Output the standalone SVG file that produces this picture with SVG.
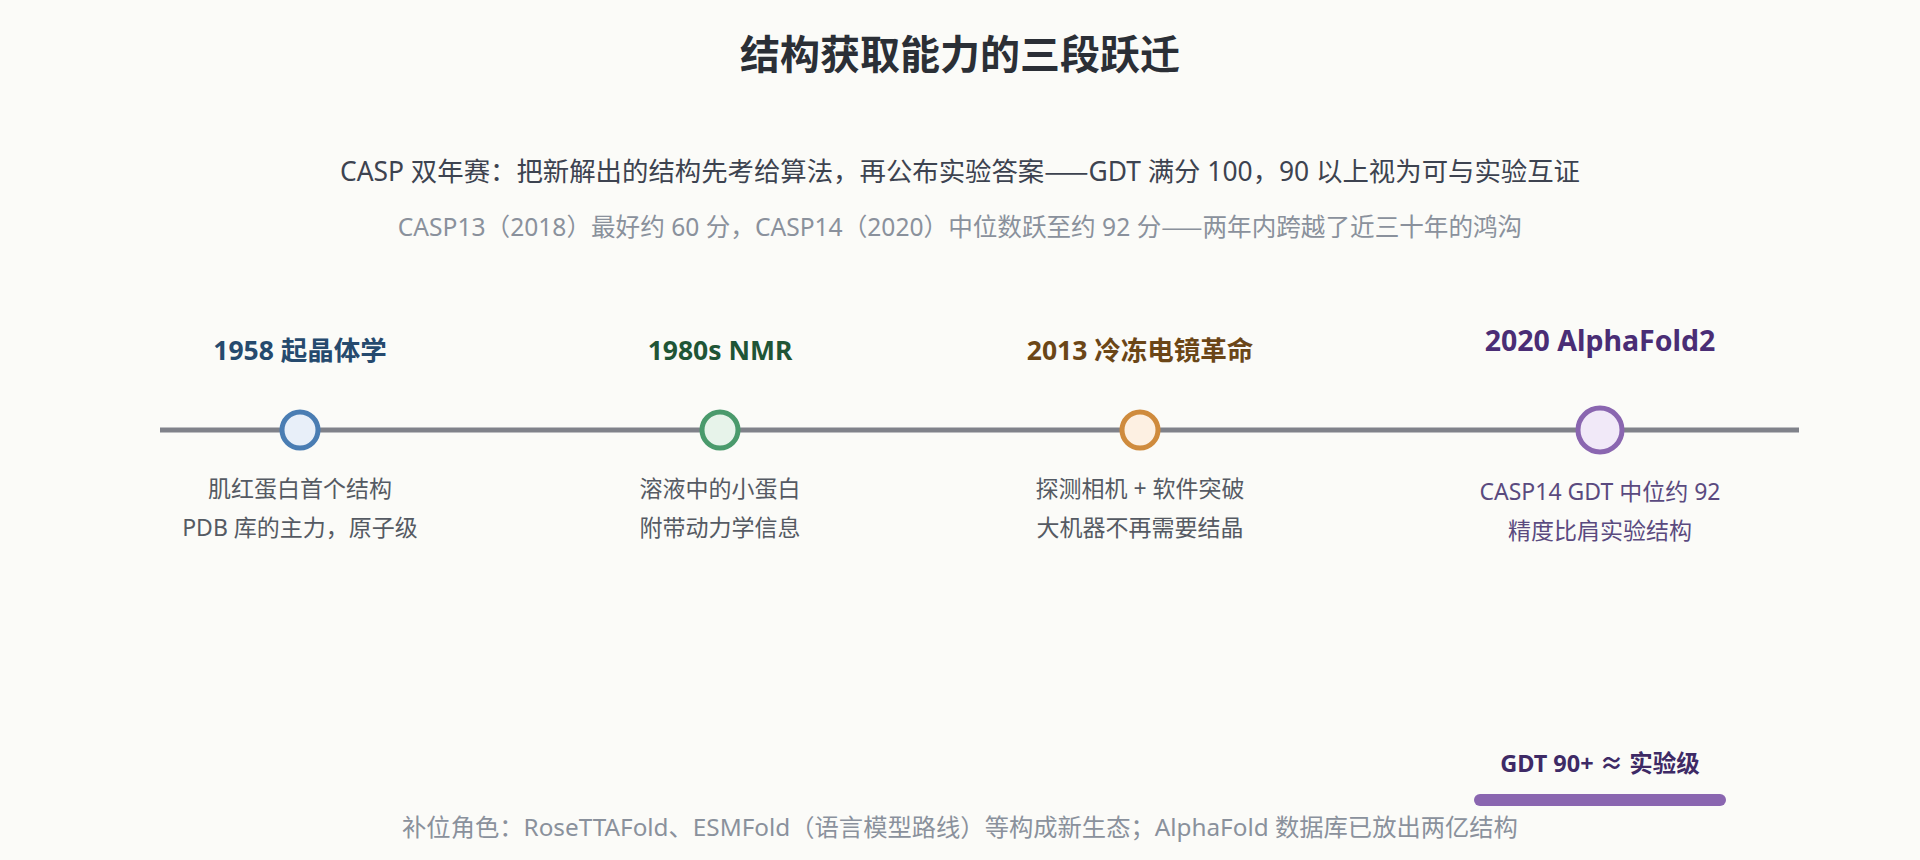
<svg xmlns="http://www.w3.org/2000/svg" width="1920" height="860" viewBox="0 0 1920 860">
<defs>
<style>
text{font-family:"Noto Sans","Noto Sans CJK SC",sans-serif;text-anchor:middle}
.cjk{font-family:"Noto Sans CJK SC",sans-serif}
.title{font-size:40px;font-weight:700;fill:#2b2f36}
.sub1{font-size:26.4px;fill:#3d4350}
.sub2{font-size:24.6px;fill:#8a919c}
.foot{font-size:24.3px;fill:#8a919c}
.nt{font-size:26.5px;font-weight:700}
.nd{font-size:23px;fill:#555a63}
.axis{stroke:#80828a;stroke-width:5}
</style>
</defs>
<rect width="1920" height="860" fill="#fbfbf8"/>
<text class="title" x="960" y="69">结构获取能力的三段跃迁</text>
<text class="sub1" x="960" y="181">CASP 双年赛：把新解出的结构先考给算法，再公布实验答案<tspan class="cjk">——</tspan>GDT 满分 100，90 以上视为可与实验互证</text>
<text class="sub2" x="960" y="236">CASP13（2018）最好约 60 分，CASP14（2020）中位数跃至约 92 分<tspan class="cjk">——</tspan>两年内跨越了近三十年的鸿沟</text>
<g id="connectors">
<line class="axis" x1="160" y1="430" x2="1799" y2="430"/>
</g>
<g id="node-1958">
<text class="nt" x="300" y="360" fill="#264a6e">1958 起晶体学</text>
<circle cx="300" cy="430" r="18" fill="#e8eff9" stroke="#4a7db3" stroke-width="5"/>
<text class="nd" x="300" y="497">肌红蛋白首个结构</text>
<text class="nd" x="300" y="536">PDB 库的主力，原子级</text>
</g>
<g id="node-1980s">
<text class="nt" x="720" y="360" fill="#1f5536">1980s NMR</text>
<circle cx="720" cy="430" r="18" fill="#e7f3ea" stroke="#4a9a6c" stroke-width="5"/>
<text class="nd" x="720" y="497">溶液中的小蛋白</text>
<text class="nd" x="720" y="536">附带动力学信息</text>
</g>
<g id="node-2013">
<text class="nt" x="1140" y="360" fill="#6b4617">2013 冷冻电镜革命</text>
<circle cx="1140" cy="430" r="18" fill="#fdf0e2" stroke="#cf8b3d" stroke-width="5"/>
<text class="nd" x="1140" y="497">探测相机 + 软件突破</text>
<text class="nd" x="1140" y="536">大机器不再需要结晶</text>
</g>
<g id="node-2020">
<text class="nt" x="1600" y="351" fill="#4a2d75" style="font-size:28.5px">2020 AlphaFold2</text>
<circle cx="1600" cy="430" r="22" fill="#f1e9f8" stroke="#8a66b0" stroke-width="5"/>
<text class="nd" x="1600" y="500" style="fill:#5a4a7f">CASP14 GDT 中位约 92</text>
<text class="nd" x="1600" y="539" style="fill:#5a4a7f">精度比肩实验结构</text>
</g>
<g id="badge">
<text x="1600" y="772" style="font-size:23.5px;font-weight:700;fill:#3e2a66">GDT 90+ ≈ 实验级</text>
<rect x="1474" y="794" width="252" height="12" rx="6" fill="#8a66b0"/>
</g>
<text class="foot" x="960" y="836">补位角色：RoseTTAFold、ESMFold（语言模型路线）等构成新生态；AlphaFold 数据库已放出两亿结构</text>
</svg>
